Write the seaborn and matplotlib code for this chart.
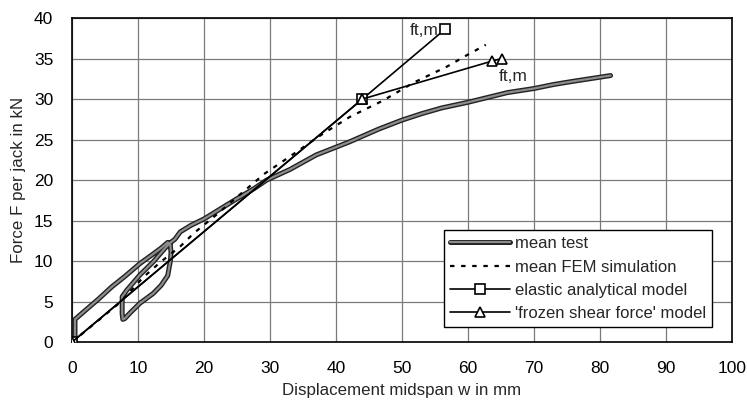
import matplotlib
matplotlib.use("Agg")
import matplotlib.pyplot as plt
import matplotlib.patheffects as pe
import seaborn as sns
import pandas as pd

# ---- data ----
test_x = [0.45, 0.45, 2, 4, 6, 8, 10.3, 12, 13.5, 14.5, 14.9, 15.0, 14.9, 14.5, 13.5, 12.3,
          10.3, 8.8, 8.0, 7.7, 7.6, 7.6, 8.3, 10.3, 12.3, 14.0, 14.8, 15.6, 16.4, 18, 20,
          22, 25, 27.5, 29.5, 33, 37, 42, 46.5, 50, 53, 56, 60, 63, 66, 70, 73, 76, 80, 81.6]
test_y = [0, 2.8, 3.9, 5.3, 6.8, 8.1, 9.7, 10.7, 11.6, 12.3, 12.0, 11.0, 10.0, 8.2, 7.0, 6.0,
          4.8, 3.6, 2.9, 2.8, 3.5, 5.6, 6.4, 8.3, 9.9, 11.5, 12.2, 12.7, 13.6, 14.4, 15.2,
          16.2, 17.7, 18.9, 20.0, 21.3, 23.1, 24.7, 26.3, 27.4, 28.2, 28.9, 29.6, 30.2, 30.8,
          31.3, 31.8, 32.2, 32.7, 32.9]

fem_x = [0, 3, 7.3, 10.8, 13.3, 16.4, 18.4, 22, 25, 29.2, 33, 37.8, 42.1, 47.1, 51.7, 56.8, 59.8, 62.7]
fem_y = [0, 2.0, 4.9, 8.0, 9.8, 11.8, 13.4, 15.8, 17.9, 20.8, 22.9, 25.6, 27.8, 29.8, 32.0, 34.0, 35.4, 36.7]

elastic_x = [0, 44.0, 56.5]
elastic_y = [0, 30.0, 38.6]

frozen_x = [0, 44.0, 63.7, 65.1]
frozen_y = [0, 30.0, 34.7, 35.0]

labels = ["mean test", "mean FEM simulation", "elastic analytical model",
          "'frozen shear force' model"]
x_ticks = list(range(0, 101, 10))
y_ticks = list(range(0, 41, 5))

# ---- style ----
sns.set_style("white")
plt.rcParams["font.family"] = ["Liberation Sans", "DejaVu Sans"]
plt.rcParams["font.size"] = 12

fig = plt.figure(figsize=(7.47, 4.01), dpi=100)
ax = fig.add_axes([0.0964, 0.147, 0.8835, 0.808])

test_df = pd.DataFrame({"x": test_x, "y": test_y})
fem_df = pd.DataFrame({"x": fem_x, "y": fem_y})
el_df = pd.DataFrame({"x": elastic_x, "y": elastic_y})
fr_df = pd.DataFrame({"x": frozen_x, "y": frozen_y})

sns.lineplot(data=test_df, x="x", y="y", sort=False, estimator=None, ax=ax,
             color="#8c8c8c", lw=1.6, label=labels[0],
             path_effects=[pe.Stroke(linewidth=3.6, foreground="#222222"), pe.Normal()],
             zorder=3)
sns.lineplot(data=fem_df, x="x", y="y", sort=False, estimator=None, ax=ax,
             color="black", lw=1.6, dashes=False, linestyle=(0, (2, 3)),
             label=labels[1], zorder=3)
sns.lineplot(data=el_df, x="x", y="y", sort=False, estimator=None, ax=ax,
             color="black", lw=1.2, marker="s", markersize=7.5, markerfacecolor="white",
             markeredgecolor="black", markeredgewidth=1.2, label=labels[2], zorder=4)
sns.lineplot(data=fr_df, x="x", y="y", sort=False, estimator=None, ax=ax,
             color="black", lw=1.2, marker="^", markersize=7.5, markerfacecolor="white",
             markeredgecolor="black", markeredgewidth=1.2, label=labels[3], zorder=4)

ax.text(55.6, 38.5, "ft,m", ha="right", va="center", fontsize=12.5)
ax.text(64.6, 32.8, "ft,m", ha="left", va="center", fontsize=12.5)

ax.set_xlim(0, 100)
ax.set_ylim(0, 40)
ax.set_xticks(x_ticks)
ax.set_yticks(y_ticks)
ax.grid(True, color="#7a7a7a", lw=0.9)
ax.set_axisbelow(True)
for s in ax.spines.values():
    s.set_color("black")
    s.set_linewidth(1.2)
    s.set_visible(True)
ax.tick_params(direction="out", length=4, width=1, colors="black", labelsize=12.5, pad=9.5)

ax.set_xlabel("Displacement midspan w in mm", fontsize=12.2)
ax.set_ylabel("Force F per jack in kN", fontsize=12.2)
ax.xaxis.label.set_va("center")
ax.yaxis.label.set_va("center")
ax.xaxis.set_label_coords(0.5, -0.148)
ax.yaxis.set_label_coords(-0.0818, 0.5)

leg = ax.legend(loc="lower right", bbox_to_anchor=(0.97, 0.046), frameon=True,
                fancybox=False, edgecolor="black", framealpha=1, fontsize=12,
                handlelength=3.6, numpoints=1, borderpad=0.35, labelspacing=0.5,
                handletextpad=0.3, borderaxespad=0)
leg.get_frame().set_linewidth(1.0)

fig.savefig("out.png", dpi=100)
